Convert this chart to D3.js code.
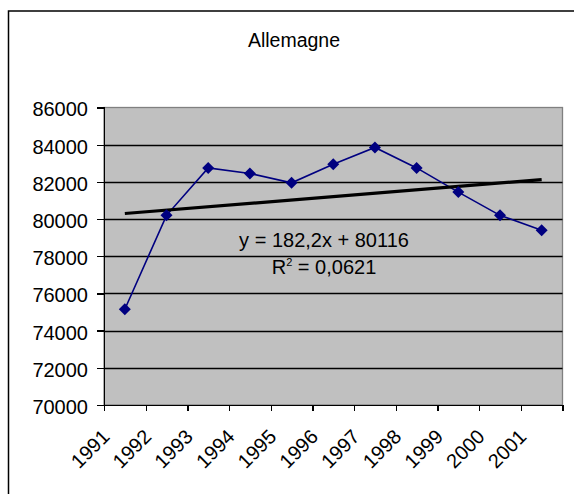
<!DOCTYPE html>
<meta charset="utf-8">
<style>
  body { margin: 0; background: #fff; }
  text { font-family: "Liberation Sans", Arial, sans-serif; fill: #000; }
  .axis path, .axis line { stroke: #000; stroke-width: 1.3; shape-rendering: crispEdges; }
  .axis text { font-size: 20px; }
</style>
<body>
<script src="https://d3js.org/d3.v7.min.js"></script>
<script>
// data
var years = ["1991", "1992", "1993", "1994", "1995", "1996", "1997", "1998", "1999", "2000", "2001"];
var values = [75150, 80200, 82750, 82450, 81950, 82950, 83850, 82750, 81450, 80200, 79400];
var yTicks = [70000, 72000, 74000, 76000, 78000, 80000, 82000, 84000, 86000];
var trendSlope = 182.2,
    trendIntercept = 80116;
var trendLabel = "y = 182,2x + 80116";
var r2Label = "0,0621";
var title = "Allemagne";

var width = 574,
    height = 494;
// plot area box (not "top": that name is taken by window.top)
var plotL = 104, plotR = 562.5, plotT = 107.5, plotB = 405;

var svg = d3.select("body").append("svg")
    .attr("width", width)
    .attr("height", height);

// outer chart frame (runs off the right and bottom edges)
svg.append("rect")
    .attr("x", 8.5).attr("y", 11)
    .attr("width", 700).attr("height", 700)
    .attr("fill", "#fff")
    .attr("stroke", "#000")
    .attr("stroke-width", 1.5);

var x = d3.scaleBand().domain(years).range([plotL, plotR]);
var xEdge = d3.scaleLinear().domain([0, years.length]).range([plotL, plotR]);
var y = d3.scaleLinear().domain([70000, 86000]).range([plotB, plotT]);

// plot area
svg.append("rect")
    .attr("x", plotL).attr("y", plotT)
    .attr("width", plotR - plotL).attr("height", plotB - plotT)
    .attr("fill", "#c0c0c0")
    .attr("stroke", "#808080")
    .attr("stroke-width", 1.3);

// gridlines
svg.append("g")
  .selectAll("line")
  .data(yTicks.slice(1, -1))
  .enter().append("line")
    .attr("x1", plotL).attr("x2", plotR)
    .attr("y1", function(d) { return Math.round(y(d)) + 0.5; })
    .attr("y2", function(d) { return Math.round(y(d)) + 0.5; })
    .attr("stroke", "#000")
    .attr("stroke-width", 1.3);

// axes
svg.append("g")
    .attr("class", "axis")
    .attr("transform", "translate(" + plotL + ",0)")
    .call(d3.axisLeft(y).tickValues(yTicks).tickSize(7).tickPadding(9).tickFormat(d3.format("d")))
    .call(function(g) { g.selectAll("text").attr("dy", "0.42em"); });

svg.append("g")
    .attr("class", "axis")
    .attr("transform", "translate(0," + plotB + ")")
    .call(d3.axisBottom(xEdge).tickValues(d3.range(years.length + 1)).tickSize(6).tickFormat(""));

svg.append("g")
  .selectAll("text")
  .data(years)
  .enter().append("text")
    .attr("transform", function(d) {
      return "translate(" + (x(d) + x.bandwidth() / 2 - 14) + ",438) rotate(-45)";
    })
    .attr("text-anchor", "end")
    .style("font-size", "20px")
    .text(function(d) { return d; });

// series
var line = d3.line()
    .x(function(d, i) { return x(years[i]) + x.bandwidth() / 2; })
    .y(function(d) { return y(d); });

svg.append("path")
    .datum(values)
    .attr("fill", "none")
    .attr("stroke", "#000080")
    .attr("stroke-width", 1.6)
    .attr("d", line);

// trend line
var trend = d3.line()
    .x(function(d) { return x(years[d - 1]) + x.bandwidth() / 2; })
    .y(function(d) { return y(trendIntercept + trendSlope * d); });

svg.append("path")
    .datum([1, years.length])
    .attr("fill", "none")
    .attr("stroke", "#000")
    .attr("stroke-width", 3.2)
    .attr("d", trend);

svg.append("g")
  .selectAll("path")
  .data(values)
  .enter().append("path")
    .attr("d", d3.symbol(d3.symbolSquare, 72))
    .attr("transform", function(d, i) {
      return "translate(" + (x(years[i]) + x.bandwidth() / 2) + "," + y(d) + ") rotate(45)";
    })
    .attr("fill", "#000080");

// labels
svg.append("text")
    .attr("x", 294).attr("y", 47)
    .attr("text-anchor", "middle")
    .style("font-size", "19.5px")
    .text(title);

svg.append("text")
    .attr("x", 324).attr("y", 247)
    .attr("text-anchor", "middle")
    .style("font-size", "20px")
    .text(trendLabel);

var r2 = svg.append("text")
    .attr("x", 324).attr("y", 274)
    .attr("text-anchor", "middle")
    .style("font-size", "20px");
r2.append("tspan").text("R");
r2.append("tspan").attr("dy", -8).style("font-size", "11px").text("2");
r2.append("tspan").attr("dy", 8).text(" = " + r2Label);
</script>
